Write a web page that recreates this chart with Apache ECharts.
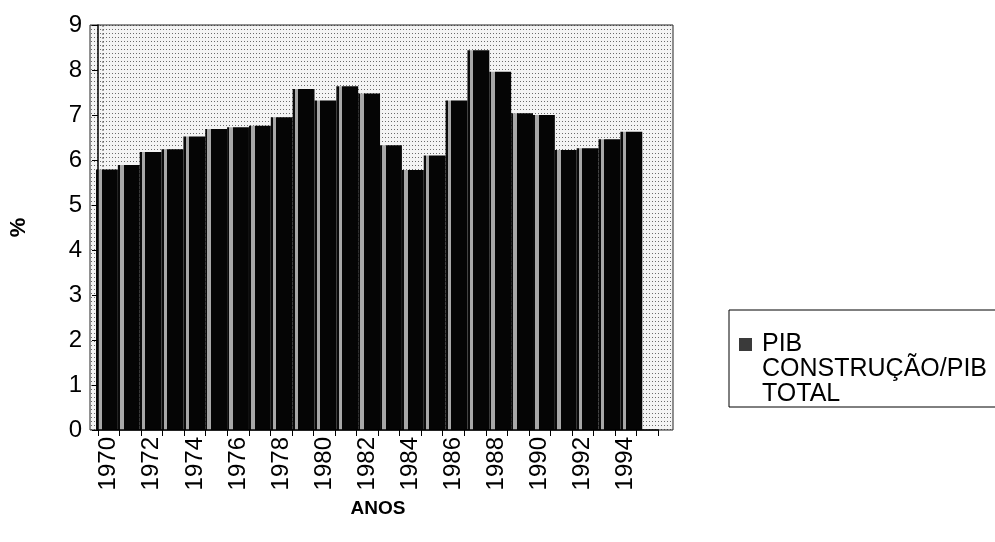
<!DOCTYPE html>
<html>
<head>
<meta charset="utf-8">
<title>PIB Construção / PIB Total</title>
<script src="https://cdn.jsdelivr.net/npm/echarts@6/dist/echarts.min.js"></script>
<style>
  html, body { margin: 0; padding: 0; background: #fff; }
  #chart { width: 995px; height: 542px; }
</style>
</head>
<body>
<div id="chart"></div>
<script>
// Participação da construção no PIB total, 1970–1995 (%)
const years = ['1970','1971','1972','1973','1974','1975','1976','1977','1978','1979',
               '1980','1981','1982','1983','1984','1985','1986','1987','1988','1989',
               '1990','1991','1992','1993','1994','1995'];
const pibConstrucao = [5.79, 5.89, 6.18, 6.24, 6.52, 6.69, 6.73, 6.76, 6.95, 7.58,
                       7.32, 7.64, 7.48, 6.33, 5.78, 6.10, 7.32, 8.44, 7.96, 7.04,
                       7.00, 6.22, 6.26, 6.46, 6.63, 0];
const yTicks = [0, 1, 2, 3, 4, 5, 6, 7, 8, 9];
const seriesName = 'PIB\nCONSTRUÇÃO/PIB\nTOTAL';

const FONT = '"Liberation Sans", Arial, sans-serif';

// plot frame
const plotLeft = 90, plotTop = 25, plotHeight = 405;
const slot = 21.85;
const plotWidth = years.length * slot;
const wallRight = 673;

// dotted back-wall fill
function dotPattern() {
  const c = document.createElement('canvas');
  c.width = 3; c.height = 4;
  const g = c.getContext('2d');
  g.fillStyle = '#f4f4f4';
  g.fillRect(0, 0, 3, 4);
  g.fillStyle = '#6a6a6a';
  g.fillRect(1, 1, 1, 1);
  return { image: c, repeat: 'repeat' };
}

const barFill = new echarts.graphic.LinearGradient(0, 0, 1, 0, [
  { offset: 0, color: '#0a0a0a' },
  { offset: 0.1, color: '#0a0a0a' },
  { offset: 0.1, color: '#a8a8a8' },
  { offset: 0.26, color: '#a8a8a8' },
  { offset: 0.26, color: '#050505' },
  { offset: 1, color: '#050505' }
]);

const chart = echarts.init(document.getElementById('chart'), null, { renderer: 'canvas' });

chart.setOption({
  animation: false,
  backgroundColor: '#fff',
  textStyle: { fontFamily: FONT },
  graphic: [
    {
      type: 'rect', z: 0, silent: true,
      shape: { x: plotLeft, y: plotTop, width: wallRight - plotLeft, height: plotHeight },
      style: { fill: dotPattern(), stroke: '#222', lineWidth: 1 }
    },
    {
      type: 'line', z: 0, silent: true,
      shape: { x1: 103, y1: plotTop, x2: 103, y2: plotTop + plotHeight },
      style: { stroke: '#555', lineWidth: 1, lineDash: [2, 2] }
    }
  ],
  legend: {
    data: [seriesName],
    left: 729,
    top: 310,
    orient: 'vertical',
    padding: [22, 60, 0, 10],
    borderColor: '#000',
    borderWidth: 1,
    itemWidth: 18,
    itemHeight: 63,
    icon: 'path://M0,0L13,0L13,13L0,13Z M0,63L18,63',
    itemStyle: { color: '#3a3a3a', borderWidth: 0 },
    textStyle: { fontFamily: FONT, fontSize: 25, lineHeight: 25, color: '#000' },
    selectedMode: false
  },
  grid: [
    { left: plotLeft, top: plotTop, width: plotWidth, height: plotHeight, containLabel: false },
    { left: plotLeft + 6, top: plotTop, width: plotWidth, height: plotHeight, containLabel: false }
  ],
  xAxis: [
    {
      gridIndex: 0,
      type: 'category',
      data: years,
      boundaryGap: true,
      name: 'ANOS',
      nameLocation: 'middle',
      nameGap: 69,
      nameTextStyle: { fontFamily: FONT, fontSize: 19, fontWeight: 'bold', color: '#000' },
      axisLine: { show: true, lineStyle: { color: '#000', width: 1.5 } },
      axisTick: { show: true, interval: 0, length: 6, lineStyle: { color: '#000' } },
      axisLabel: {
        interval: 1, rotate: 90, margin: 7,
        fontFamily: FONT, fontSize: 24, color: '#000'
      },
      splitLine: { show: false },
      z: 5
    },
    {
      gridIndex: 1,
      type: 'category',
      data: years,
      boundaryGap: true,
      show: false
    }
  ],
  yAxis: [
    {
      gridIndex: 0,
      type: 'value',
      min: yTicks[0],
      max: yTicks[yTicks.length - 1],
      interval: 1,
      name: '%',
      nameLocation: 'middle',
      nameGap: 68,
      nameTextStyle: { fontFamily: FONT, fontSize: 22, fontWeight: 'bold', color: '#000' },
      axisLine: { show: true, lineStyle: { color: '#000', width: 1.5 } },
      axisTick: { show: true, length: 6, lineStyle: { color: '#000' } },
      axisLabel: { margin: 16, fontFamily: FONT, fontSize: 24, color: '#000' },
      splitLine: { show: false },
      z: 5
    },
    {
      gridIndex: 1,
      type: 'value',
      min: yTicks[0],
      max: yTicks[yTicks.length - 1],
      interval: 1,
      show: false,
      splitLine: { show: false }
    }
  ],
  series: [
    {
      name: seriesName,
      type: 'bar',
      xAxisIndex: 1,
      yAxisIndex: 1,
      data: pibConstrucao,
      barWidth: '100%',
      barGap: '0%',
      itemStyle: { color: barFill, borderWidth: 0 },
      z: 2
    }
  ]
});
</script>
</body>
</html>
